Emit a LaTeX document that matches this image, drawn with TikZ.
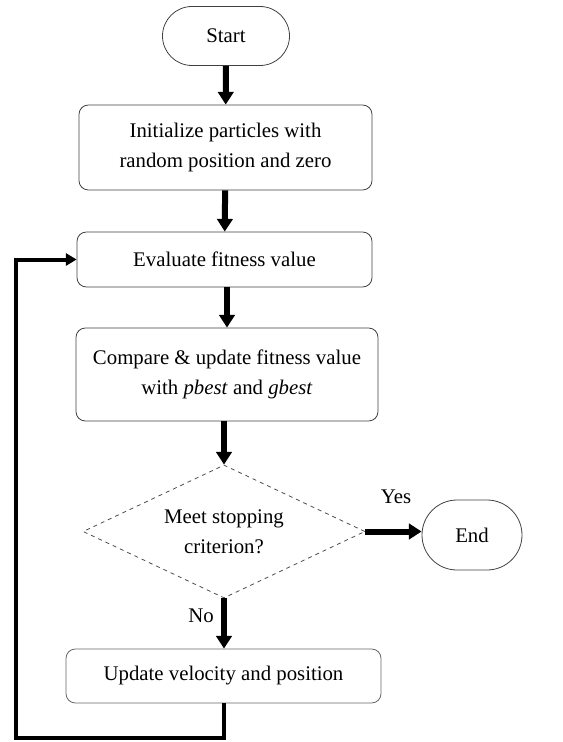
\documentclass[tikz,border=0pt]{standalone}
\usepackage{fontspec}
\setmainfont{Liberation Serif}
\usetikzlibrary{shapes.geometric,shapes.misc,arrows.meta}
\begin{document}
\begin{tikzpicture}[x=0.75pt,y=-0.75pt,
  txt/.style={font=\fontsize{15.6}{22.5}\selectfont},
  box/.style={txt, draw=black!75, line width=0.6pt, rounded corners=7pt, align=center, inner sep=0pt},
  term/.style={txt, draw=black!75, line width=0.6pt, rounded rectangle, inner sep=0pt},
  decision/.style={txt, draw=black!70, line width=0.6pt, dashed, diamond, aspect=2.12, inner sep=0pt, align=center},
  flow/.style={line width=4.5pt, -{Triangle[width=11.5pt,length=9.5pt]}},
  loopline/.style={line width=3pt, -{Triangle[width=9pt,length=8pt]}}
]
\useasboundingbox (0,0) rectangle (562,742);
\node[term, minimum width=95.25pt, minimum height=44.25pt] (start) at (226,36) {Start};
\node[box, minimum width=219.75pt, minimum height=63.75pt] (init) at (225.5,147.5) {Initialize particles with\\random position and zero};
\node[box, minimum width=221.25pt, minimum height=41.25pt] (eval) at (224.5,259.5) {Evaluate fitness value};
\node[box, minimum width=226.5pt, minimum height=69.75pt] (comp) at (227,374.5) {Compare \& update fitness value\\with \textit{pbest} and \textit{gbest}};
\node[decision, minimum width=211.5pt, minimum height=99.75pt] (dec) at (224,531.5) {Meet stopping\\criterion?};
\node[term, minimum width=75pt, minimum height=52.5pt] (end) at (472,535) {End};
\node[box, draw=black!60, minimum width=236.25pt, minimum height=40.5pt] (upd) at (223.5,676) {Update velocity and position};
\node[txt] (yes) at (396,497) {Yes};
\node[txt] (no) at (201,616) {No};
\coordinate (c1) at (16,738);
\draw[flow] (start) -- (init);
\draw[flow] (init) -- (eval);
\draw[flow] (eval.south -| comp.north) -- (comp.north);
\draw[flow] (comp.south -| dec.north) -- (dec.north);
\draw[flow] (dec.east) -- (end.west |- dec.east);
\draw[flow] (dec.south) -- (upd.north -| dec.south);
\draw[loopline] (upd.south -| dec.south) |- (c1) |- (eval.west);
\end{tikzpicture}
\end{document}
